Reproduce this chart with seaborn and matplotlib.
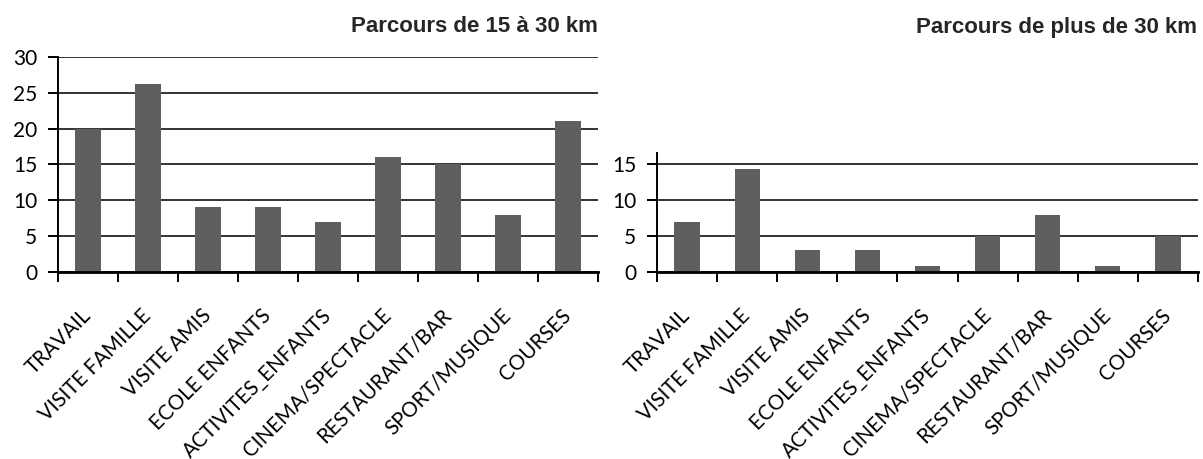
import matplotlib
matplotlib.use("Agg")
import matplotlib.pyplot as plt
import seaborn as sns
import numpy as np
import pandas as pd

# motifs de déplacement
motifs = ["TRAVAIL", "VISITE FAMILLE", "VISITE AMIS", "ECOLE ENFANTS",
          "ACTIVITES_ENFANTS", "CINEMA/SPECTACLE", "RESTAURANT/BAR",
          "SPORT/MUSIQUE", "COURSES"]
parcours_15_30 = [20, 26.2, 9, 9, 7, 16, 15, 8, 21]
parcours_plus_30 = [7, 14.3, 3, 3, 0.8, 5, 8, 0.8, 5]
titre_gauche = "Parcours de 15 à 30 km"
titre_droite = "Parcours de plus de 30 km"

sns.set_style("white")
plt.rcParams['font.family'] = ['Lato', 'DejaVu Sans']

fig = plt.figure(figsize=(12.03, 4.59), dpi=100)
px = 7.17 / 459  # hauteur d'une unité en fraction de figure

ax1 = fig.add_axes([58 / 1203, 187 / 459, 540 / 1203, 30 * px])
ax2 = fig.add_axes([657 / 1203, 187 / 459, 541 / 1203, 16.6 * px])


def draw(ax, values, ymax, yticks):
    df = pd.DataFrame({'motif': motifs, 'val': values})
    sns.barplot(data=df, x='motif', y='val', color='#5f5f5f', width=0.42,
                saturation=1, linewidth=0, ax=ax)
    ax.set_xlim(-0.5, len(motifs) - 0.5)
    ax.set_ylim(0, ymax)
    ax.set_yticks(yticks)
    ax.yaxis.grid(True, color='#111111', linewidth=1.2)
    ax.set_axisbelow(True)
    ax.set_xlabel('')
    ax.set_ylabel('')
    for s in ['top', 'right']:
        ax.spines[s].set_visible(False)
    ax.spines['left'].set_color('black')
    ax.spines['left'].set_linewidth(1.4)
    ax.spines['bottom'].set_color('black')
    ax.spines['bottom'].set_linewidth(2)
    ax.set_xticks(np.arange(-0.5, len(motifs)), minor=True)
    ax.tick_params(axis='x', which='minor', length=7, width=1.4,
                   direction='out', color='black', bottom=True)
    ax.tick_params(axis='x', which='major', length=0, pad=29)
    ax.tick_params(axis='y', length=7, width=1.4, direction='out',
                   color='black', left=True, labelsize=15, pad=8,
                   labelcolor='black')
    ax.set_xticks(range(len(motifs)))
    ax.set_xticklabels(motifs, rotation=45, ha='right', va='center',
                       rotation_mode='anchor', fontsize=14.8, color='black')


draw(ax1, parcours_15_30, 30, [0, 5, 10, 15, 20, 25, 30])
draw(ax2, parcours_plus_30, 16.6, [0, 5, 10, 15])

fig.text(598 / 1203, 1 - 27 / 459, titre_gauche, ha='right', va='center',
         family='Liberation Sans', fontweight='bold', fontsize=16)
fig.text(1197 / 1203, 1 - 27 / 459, titre_droite, ha='right', va='center',
         family='Liberation Sans', fontweight='bold', fontsize=16)

fig.savefig('out.png', dpi=100)
